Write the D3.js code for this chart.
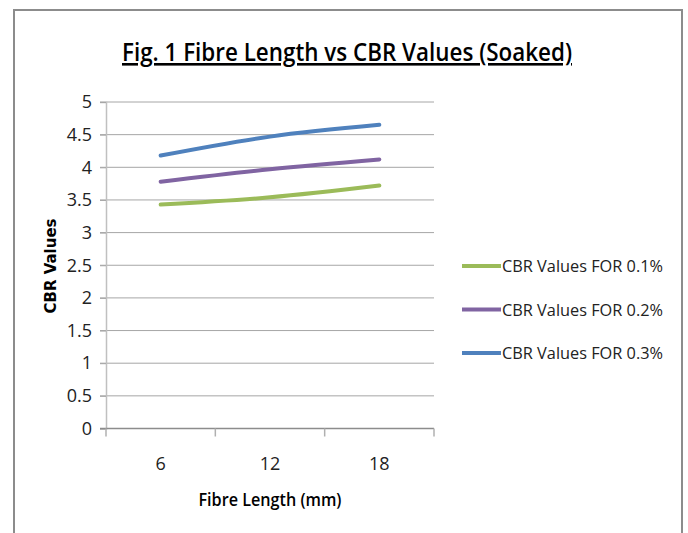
<!DOCTYPE html>
<html>
<head>
<meta charset="utf-8">
<script src="https://cdn.jsdelivr.net/npm/d3@7"></script>
<style>
  body { margin: 0; background: #fff; }
  text { font-family: "Open Sans", "Liberation Sans", sans-serif; fill: #222; }
</style>
</head>
<body>
<svg id="chart" width="688" height="533"></svg>
<script>
const categories = ['6', '12', '18'];
const seriesNames = ['CBR Values FOR 0.1%', 'CBR Values FOR 0.2%', 'CBR Values FOR 0.3%'];
const values01 = [3.43, 3.54, 3.72];
const values02 = [3.78, 3.97, 4.12];
const values03 = [4.18, 4.47, 4.65];
const colors = ['#9bbb59', '#8064a2', '#4f81bd'];
const yTicks = [0, 0.5, 1, 1.5, 2, 2.5, 3, 3.5, 4, 4.5, 5];

const series = [values01, values02, values03];

const svg = d3.select('#chart');

// outer frame
svg.append('rect')
  .attr('x', 14).attr('y', 10)
  .attr('width', 668).attr('height', 540)
  .attr('fill', 'none')
  .attr('stroke', '#8c8c8c')
  .attr('stroke-width', 2);

const plotLeft = 106, plotRight = 434, plotTop = 102, plotBottom = 428.5;

const x = d3.scaleBand().domain(categories).range([plotLeft, plotRight]);
const y = d3.scaleLinear().domain([0, 5]).range([plotBottom, plotTop]);

// title (narrowed to mimic Calibri width)
svg.append('text')
  .attr('x', 347).attr('y', 61)
  .attr('text-anchor', 'middle')
  .attr('textLength', 450)
  .attr('lengthAdjust', 'spacingAndGlyphs')
  .style('font-size', '26px')
  .style('font-weight', '600')
  .style('fill', '#000')
  .style('text-decoration', 'underline')
  .text('Fig. 1 Fibre Length vs CBR Values (Soaked)');

// gridlines
svg.append('g')
  .selectAll('line')
  .data(yTicks.filter(d => d > 0))
  .enter()
  .append('line')
  .attr('x1', plotLeft - 6).attr('x2', plotRight)
  .attr('y1', d => y(d)).attr('y2', d => y(d))
  .attr('stroke', '#a6a6a6')
  .attr('stroke-width', 1);

// y axis
const yAxis = svg.append('g')
  .attr('transform', `translate(${plotLeft},0)`)
  .call(d3.axisLeft(y).tickValues(yTicks).tickSize(6).tickPadding(8).tickFormat(d3.format('')));
yAxis.select('.domain').attr('stroke', '#c0c0c0').attr('stroke-width', 1.5);
yAxis.selectAll('.tick line').attr('stroke', '#a6a6a6');
yAxis.selectAll('.tick text').style('font-size', '18px').attr('fill', '#222');

// x axis (ticks at category boundaries)
const xAxis = svg.append('g')
  .attr('transform', `translate(0,${plotBottom})`);
xAxis.append('line')
  .attr('x1', plotLeft - 6).attr('x2', plotRight)
  .attr('stroke', '#8c8c8c').attr('stroke-width', 1.5);
const bounds = categories.map(c => x(c)).concat([x(categories[categories.length - 1]) + x.bandwidth()]);
xAxis.selectAll('line.tk')
  .data(bounds)
  .enter()
  .append('line')
  .attr('class', 'tk')
  .attr('x1', d => d).attr('x2', d => d)
  .attr('y1', 0).attr('y2', 8)
  .attr('stroke', '#b0b0b0').attr('stroke-width', 1.5);
xAxis.selectAll('text')
  .data(categories)
  .enter()
  .append('text')
  .attr('x', d => x(d) + x.bandwidth() / 2)
  .attr('y', 41)
  .attr('text-anchor', 'middle')
  .style('font-size', '18px')
  .text(d => d);

// axis titles
svg.append('text')
  .attr('x', 270).attr('y', 506)
  .attr('text-anchor', 'middle')
  .attr('textLength', 143)
  .attr('lengthAdjust', 'spacingAndGlyphs')
  .style('font-size', '18px')
  .style('font-weight', '600')
  .style('fill', '#000')
  .text('Fibre Length (mm)');

svg.append('text')
  .attr('transform', 'translate(56,266) rotate(-90)')
  .attr('text-anchor', 'middle')
  .style('font-family', '"DejaVu Sans", sans-serif')
  .style('font-size', '15px')
  .style('font-weight', 'bold')
  .style('fill', '#000')
  .text('CBR Values');

// lines
const line = d3.line()
  .x((d, i) => x(categories[i]) + x.bandwidth() / 2)
  .y(d => y(d))
  .curve(d3.curveCatmullRom.alpha(0.5));

svg.append('g')
  .selectAll('path')
  .data(series)
  .enter()
  .append('path')
  .attr('d', line)
  .attr('fill', 'none')
  .attr('stroke', (d, i) => colors[i])
  .attr('stroke-width', 4)
  .attr('stroke-linecap', 'round');

// legend
const legend = svg.append('g')
  .selectAll('g')
  .data(seriesNames)
  .enter()
  .append('g')
  .attr('transform', (d, i) => `translate(462,${266 + i * 43.5})`);
legend.append('line')
  .attr('x1', 0).attr('x2', 39)
  .attr('stroke', (d, i) => colors[i])
  .attr('stroke-width', 4);
legend.append('text')
  .attr('x', 40).attr('y', 6)
  .attr('textLength', 161)
  .attr('lengthAdjust', 'spacingAndGlyphs')
  .style('font-size', '17px')
  .text(d => d);
</script>
</body>
</html>
